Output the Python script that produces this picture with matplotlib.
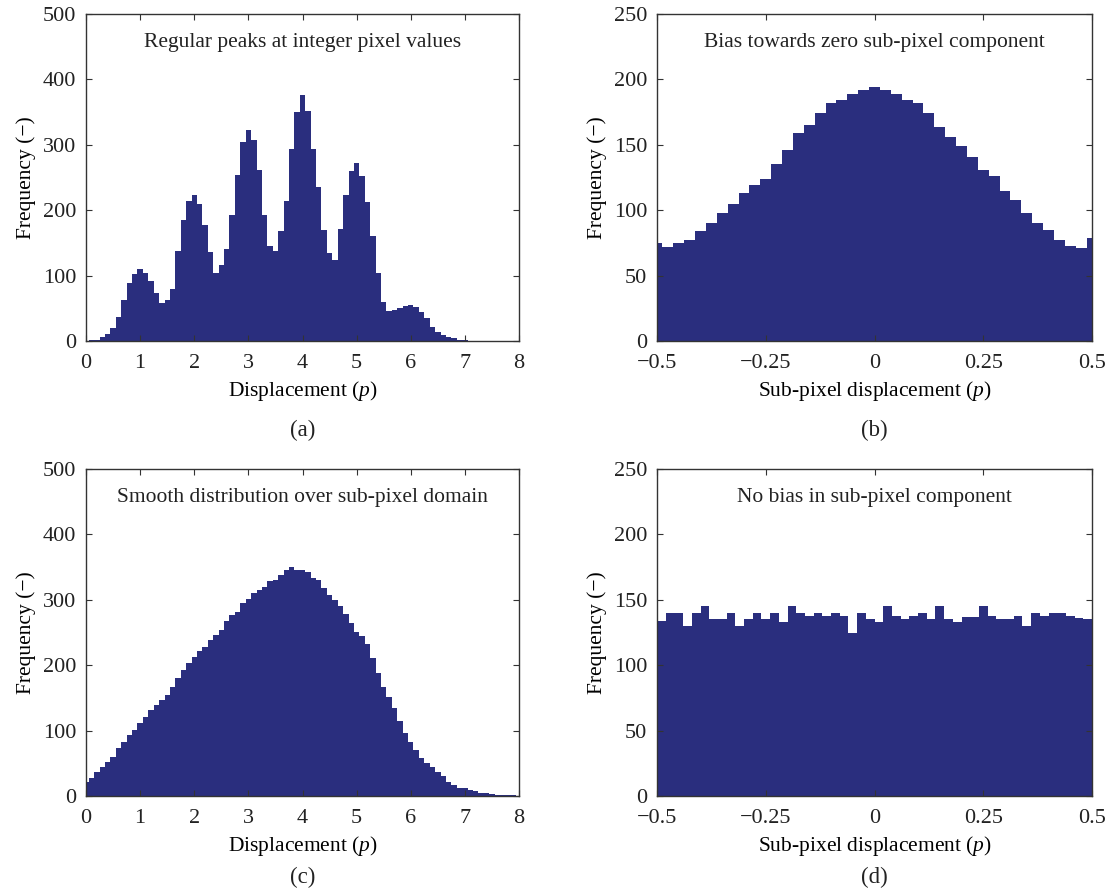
import numpy as np
import matplotlib.pyplot as plt

# === DADOS === #

# (a) e (c): deslocamento total, classes de 0.1 p
desloc = np.round(np.arange(0, 8.01, 0.1), 2)
freq_a = [0, 1, 2, 6, 10, 20, 36, 62, 88, 102,
          110, 104, 92, 74, 58, 62, 80, 138, 185, 214,
          224, 210, 178, 136, 104, 116, 140, 192, 254, 304,
          322, 308, 262, 192, 146, 138, 168, 214, 294, 350,
          376, 352, 294, 236, 170, 134, 124, 172, 224, 260,
          272, 252, 212, 160, 104, 60, 46, 47, 50, 54,
          55, 52, 45, 35, 22, 14, 9, 6, 4, 2,
          1, 0, 0, 0, 0, 0, 0, 0, 0, 0, 0]
freq_c = [22, 27, 37, 45, 52, 60, 73, 83, 93, 101,
          111, 121, 131, 139, 147, 154, 167, 180, 193, 203,
          213, 221, 228, 239, 246, 254, 267, 277, 282, 295,
          302, 310, 315, 320, 328, 330, 338, 345, 350, 346,
          345, 343, 333, 330, 318, 307, 300, 290, 279, 264,
          251, 244, 233, 211, 188, 167, 152, 134, 114, 96,
          83, 70, 58, 50, 45, 37, 30, 22, 17, 13,
          12, 9, 7, 5, 4, 3, 2, 2, 1, 1, 0]

# (b): componente sub-pixel com viés, classes de 0.025 p
subpix_b = np.round(np.arange(-0.5, 0.501, 0.025), 3)
freq_b = [75, 72, 75, 77, 84, 90, 98, 105, 113, 119,
          124, 135, 146, 159, 165, 174, 182, 184, 189, 192,
          194, 192, 189, 184, 182, 174, 164, 156, 149, 141,
          131, 126, 115, 108, 98, 90, 85, 77, 73, 71, 79]

# (d): componente sub-pixel sem viés, classes de 0.02 p
subpix_d = np.round(np.arange(-0.49, 0.5, 0.02), 3)
freq_d = [134, 140, 140, 130, 140, 145, 135, 135, 140, 130,
          135, 140, 135, 140, 133, 145, 140, 138, 140, 138,
          140, 138, 125, 140, 135, 133, 145, 138, 135, 138,
          140, 135, 145, 135, 133, 137, 137, 145, 138, 135,
          135, 138, 130, 140, 138, 140, 140, 138, 136, 135]

titulos = ['Regular peaks at integer pixel values',
           'Bias towards zero sub-pixel component',
           'Smooth distribution over sub-pixel domain',
           'No bias in sub-pixel component']
letras = ['(a)', '(b)', '(c)', '(d)']

# === ESTILO === #
plt.rcParams['font.family'] = ['Liberation Serif', 'DejaVu Serif']
plt.rcParams['mathtext.fontset'] = 'custom'
plt.rcParams['mathtext.it'] = 'Liberation Serif:italic'
plt.rcParams['mathtext.rm'] = 'Liberation Serif'
cor = '#2a2e7e'
fs = 15.5

fig = plt.figure(figsize=(11.1, 8.93), dpi=100)

# posições [esq, baixo, larg, alt] em fração da figura
pos = [[0.0775, 0.6181, 0.3901, 0.3662],
       [0.5919, 0.6181, 0.3919, 0.3662],
       [0.0775, 0.1086, 0.3901, 0.3662],
       [0.5919, 0.1086, 0.3919, 0.3662]]

dados = [(desloc, freq_a, 0.1), (subpix_b, freq_b, 0.025),
         (desloc, freq_c, 0.1), (subpix_d, freq_d, 0.02)]

for i in range(4):
    ax = fig.add_axes(pos[i])
    x, y, larg = dados[i]
    ax.bar(x, y, width=larg, color=cor, linewidth=0, align='center')

    if i in (0, 2):
        ax.set_xlim(0, 8)
        ax.set_ylim(0, 500)
        ax.set_xticks(range(0, 9))
        ax.set_yticks(range(0, 501, 100))
        ax.set_xlabel('Displacement ($p$)', fontsize=fs, labelpad=5)
    else:
        ax.set_xlim(-0.5, 0.5)
        ax.set_ylim(0, 250)
        ax.set_xticks([-0.5, -0.25, 0, 0.25, 0.5])
        ax.set_xticklabels(['\u22120.5', '\u22120.25', '0', '0.25', '0.5'])
        ax.set_yticks(range(0, 251, 50))
        ax.set_xlabel('Sub-pixel displacement ($p$)', fontsize=fs, labelpad=5)

    ax.set_ylabel('Frequency (\u2212)', fontsize=fs, labelpad=5)
    ax.tick_params(direction='in', length=4, width=0.8, top=True, right=True,
                   labelsize=16, color='#333333', labelcolor='#222222')
    ax.tick_params(axis='x', pad=9)
    ax.tick_params(axis='y', pad=7)
    for sp in ax.spines.values():
        sp.set_linewidth(1.0)
        sp.set_color('#333333')

    ax.text(0.5, 0.90, titulos[i], transform=ax.transAxes, ha='center',
            va='baseline', fontsize=fs, color='#222222')

    p = pos[i]
    y_letra = 0.5185 if i < 2 else 0.006
    fig.text(p[0] + p[2] / 2, y_letra, letras[i], ha='center',
             va='center' if i < 2 else 'bottom', fontsize=fs + 1, color='#222222')

fig.savefig('out.png', dpi=100)
